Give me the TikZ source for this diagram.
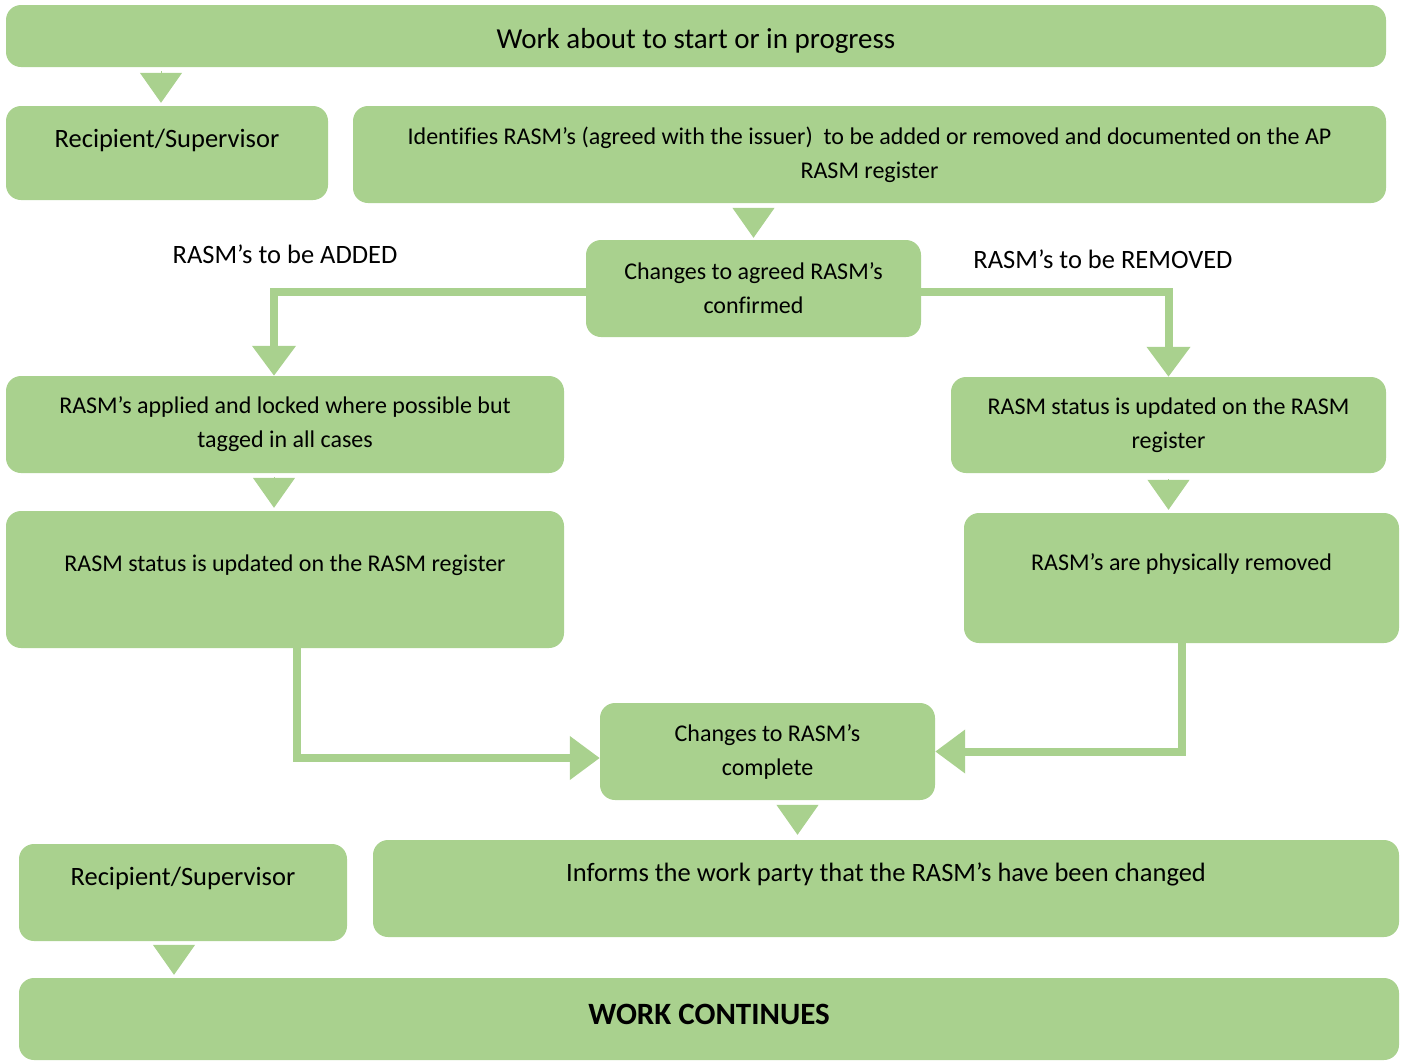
\documentclass[tikz,border=0pt]{standalone}
\usepackage{fontspec}
\setmainfont{Carlito}[Ligatures=NoCommon]
\usetikzlibrary{arrows.meta,calc}
\definecolor{boxgreen}{HTML}{A9D18E}
\tikzset{
  box/.style={fill=boxgreen, rounded corners=15pt, inner sep=0pt, align=center, font=\fontsize{24}{34}\selectfont},
  txt/.style={align=center, inner sep=0pt, font=\fontsize{24}{34}\selectfont},
  big/.style={font=\fontsize{26.5}{34}\selectfont},
  conn/.style={draw=boxgreen, line width=8pt, -{Triangle[width=42pt,length=30pt]}},
  tri/.style={draw=boxgreen, line width=1pt, -{Triangle[width=42pt,length=30pt]}},
}
\begin{document}
\begin{tikzpicture}[x=1pt,y=-1pt]
        \useasboundingbox (0,0) rectangle (1404,1061);
        %% Start and who does it
        \node[box, minimum width=1380pt, minimum height=62pt] (start) at (696,36) {};
        \node[txt, font=\fontsize{29}{34}\selectfont] (startt) at ($(start)+(0,5)$) {Work about to start or in progress};
        \node[box, minimum width=322pt, minimum height=94pt] (rs1) at (167,153) {};
        \node[txt, big] (rs1t) at ($(rs1)+(0,-13)$) {Recipient/Supervisor};
        \node[box, minimum width=1033pt, minimum height=97pt] (idn) at (869.5,154.5) {Identifies RASM’s (agreed with the issuer)\ \ to be added or removed and documented on the AP\\RASM register};
        \node[box, minimum width=335pt, minimum height=97pt] (chg) at (753.5,288.5) {Changes to agreed RASM’s\\confirmed};
        %% Branch labels
        \node[txt, big] (added) at (285,254) {RASM’s to be ADDED};
        \node[txt, big] (removedl) at (1103,259) {RASM’s to be REMOVED};
        %% Left branch
        \node[box, minimum width=558pt, minimum height=97pt] (applied) at (285,424.5) {RASM’s applied and locked where possible but\\tagged in all cases};
        \node[box, minimum width=558pt, minimum height=137pt] (stat1) at (285,579.5) {};
        \node[txt] (stat1t) at ($(stat1)+(0,-14.5)$) {RASM status is updated on the RASM register};
        %% Right branch
        \node[box, minimum width=435pt, minimum height=96pt] (stat2) at (1168.5,425) {RASM status is updated on the RASM\\register};
        \node[box, minimum width=435pt, minimum height=130pt] (removed) at (1181.5,578) {};
        \node[txt] (removedt) at ($(removed)+(0,-14)$) {RASM’s are physically removed};
        %% Finish
        \node[box, minimum width=335pt, minimum height=97pt] (done) at (767.5,751.5) {Changes to RASM’s\\complete};
        \node[box, minimum width=328pt, minimum height=97pt] (rs2) at (183,892.5) {};
        \node[txt, big] (rs2t) at ($(rs2)+(0,-14.5)$) {Recipient/Supervisor};
        \node[box, minimum width=1026pt, minimum height=97pt] (informs) at (886,888.5) {};
        \node[txt, big] (informst) at ($(informs)+(0,-14.5)$) {Informs the work party that the RASM’s have been changed};
        \node[box, minimum width=1380pt, minimum height=82pt] (wc) at (709,1019) {};
        \node[txt, font=\fontsize{31}{34}\selectfont\bfseries] (wct) at ($(wc)+(0,-5)$) {WORK CONTINUES};
        %% Elbow connectors
        \draw[conn] ([yshift=-3.5pt]chg.west) -| ([xshift=-11pt]applied.north);
        \draw[conn] ([yshift=-3.5pt]chg.east) -| (stat2.north);
        \draw[conn] ([xshift=12pt]stat1.south) |- ([yshift=-6.5pt]done.west);
        \draw[conn] (removed.south) |- (done.east);
        %% Small triangles between boxes
        \draw[tri] ($(start.south -| rs1.north)+(-6,4)$) -- ($(rs1.north)+(-6,-3)$);
        \draw[tri] ($(idn.south -| chg.north)+(0,5)$) -- ($(chg.north)+(0,-2)$);
        \draw[tri] ($(applied.south)+(-11,4)$) -- ($(stat1.north)+(-11,-3)$);
        \draw[tri] ($(stat2.south)+(0,6)$) -- ($(removed.north -| stat2.south)+(0,-3)$);
        \draw[tri] ($(done.south)+(30,5)$) -- ($(informs.north -| done.south)+(30,-5)$);
        \draw[tri] ($(rs2.south)+(-9,4)$) -- ($(wc.north -| rs2.south)+(-9,-3)$);
    \end{tikzpicture}
\end{document}
